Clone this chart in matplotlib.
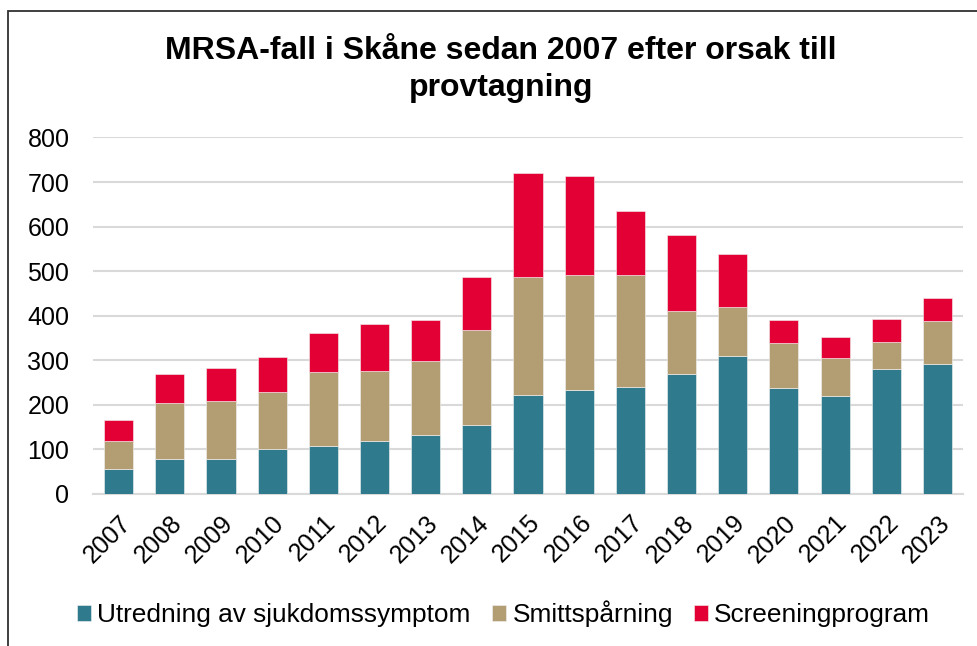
import numpy as np
import matplotlib
matplotlib.use('Agg')
import matplotlib.pyplot as plt
from matplotlib.patches import Rectangle

# Data
years = [str(y) for y in range(2007, 2024)]
# cumulative tops
teal_top = [55, 78, 79, 100, 107, 120, 132, 154, 223, 233, 239, 270, 309, 237, 221, 280, 291]
tan_top = [120, 205, 208, 228, 274, 277, 299, 369, 486, 492, 492, 410, 420, 339, 305, 342, 389]
red_top = [165, 269, 282, 307, 362, 382, 390, 486, 720, 713, 635, 581, 539, 390, 353, 393, 440]

utredning = np.array(teal_top)
smittsparning = np.array(tan_top) - utredning
screening = np.array(red_top) - np.array(tan_top)

series_names = ['Utredning av sjukdomssymptom', 'Smittspårning', 'Screeningprogram']
colors = ['#2F7B8D', '#B39D72', '#E30034']

plt.rcParams['font.family'] = ['Liberation Sans', 'DejaVu Sans']

fig = plt.figure(figsize=(9.78, 6.46), dpi=100)
ax = fig.add_axes([0.0951, 0.2353, 0.8896, 0.5519])

x = np.arange(len(years))
w = 0.57
bottom = np.zeros(len(years))
for vals, name, c in zip([utredning, smittsparning, screening], series_names, colors):
    ax.bar(x, vals, w, bottom=bottom, color=c, label=name,
           edgecolor='#f4f4f4', linewidth=0.4, zorder=3)
    bottom = bottom + vals

ax.set_xlim(-0.5, len(years) - 0.5)
ax.set_ylim(0, 800)
ax.set_yticks(range(0, 801, 100))
ax.tick_params(axis='y', labelsize=18, length=0, pad=17)
ax.set_xticks(x)
ax.set_xticklabels(years, rotation=45, ha='right', va='top', rotation_mode='anchor')
ax.tick_params(axis='x', labelsize=18, length=0, pad=12)
ax.grid(axis='y', color='#d9d9d9', linewidth=1.5, zorder=0)
for s in ['top', 'right', 'left']:
    ax.spines[s].set_visible(False)
ax.spines['bottom'].set_color('#d9d9d9')
ax.spines['bottom'].set_linewidth(1.5)

fig.text(0.512, 0.893, 'MRSA-fall i Skåne sedan 2007 efter orsak till\nprovtagning',
         ha='center', va='center', fontsize=23, fontweight='bold', linespacing=1.3)

leg = fig.legend(loc='center', bbox_to_anchor=(0.515, 0.0495), ncol=3, frameon=False,
                 fontsize=18.9, handlelength=0.55, handleheight=0.55, handletextpad=0.23,
                 columnspacing=0.8)

# outer frame
fig.patches.append(Rectangle((8 / 978, -0.1), 1.2, (646 - 11) / 646 + 0.1,
                             transform=fig.transFigure, fill=False,
                             edgecolor='#303030', linewidth=1.3))

fig.savefig('out.png', dpi=100, facecolor='white')
